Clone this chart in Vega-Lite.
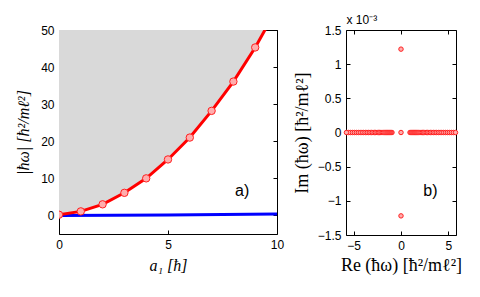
{
  "$schema": "https://vega.github.io/schema/vega-lite/v6.json",
  "padding": {"left": 15, "top": 8, "right": 5, "bottom": 5},
  "bounds": "flush",
  "spacing": 69,
  "config": {
    "view": {"stroke": null},
    "axis": {
      "grid": false, "domainColor": "#000", "domainWidth": 1, "tickColor": "#000",
      "tickSize": -4, "labelPadding": 9, "labelFont": "Liberation Sans", "labelFontSize": 12,
      "labelColor": "#000", "titleFont": "Liberation Serif", "titleFontSize": 16,
      "titleFontWeight": "normal", "titleColor": "#000", "labelFlush": false,
      "titlePadding": 7, "zindex": 1
    }
  },
  "datasets": {
    "curve": [
      {"a1": 0, "w": 0.2}, {"a1": 1, "w": 1.1}, {"a1": 2, "w": 3.0}, {"a1": 3, "w": 6.1},
      {"a1": 4, "w": 10.0}, {"a1": 5, "w": 15.1}, {"a1": 6, "w": 21.0}, {"a1": 7, "w": 28.2},
      {"a1": 8, "w": 36.1}, {"a1": 9, "w": 45.3}, {"a1": 10, "w": 55.8}
    ],
    "blue": [{"a1": 0, "w": 0}, {"a1": 5, "w": 0.15}, {"a1": 10, "w": 0.4}],
    "spectrum": [
      {"re": 0, "im": 0}, {"re": 0, "im": 1.22}, {"re": 0, "im": -1.22},
      {"re": 0.95, "im": 0}, {"re": 1.05, "im": 0}, {"re": 1.15, "im": 0}, {"re": 1.25, "im": 0},
      {"re": 1.35, "im": 0}, {"re": 1.45, "im": 0}, {"re": 1.55, "im": 0}, {"re": 1.66, "im": 0},
      {"re": 1.77, "im": 0}, {"re": 1.88, "im": 0}, {"re": 2.0, "im": 0}, {"re": 2.12, "im": 0},
      {"re": 2.25, "im": 0}, {"re": 2.38, "im": 0}, {"re": 2.52, "im": 0}, {"re": 2.66, "im": 0},
      {"re": 2.8, "im": 0}, {"re": 2.95, "im": 0}, {"re": 3.1, "im": 0}, {"re": 3.26, "im": 0},
      {"re": 3.42, "im": 0}, {"re": 3.59, "im": 0}, {"re": 3.76, "im": 0}, {"re": 3.94, "im": 0},
      {"re": 4.12, "im": 0}, {"re": 4.31, "im": 0}, {"re": 4.5, "im": 0}, {"re": 4.7, "im": 0},
      {"re": 4.9, "im": 0}, {"re": 5.1, "im": 0}, {"re": 5.31, "im": 0}, {"re": 5.52, "im": 0},
      {"re": 5.75, "im": 0},
      {"re": -0.95, "im": 0}, {"re": -1.05, "im": 0}, {"re": -1.15, "im": 0}, {"re": -1.25, "im": 0},
      {"re": -1.35, "im": 0}, {"re": -1.45, "im": 0}, {"re": -1.55, "im": 0}, {"re": -1.66, "im": 0},
      {"re": -1.77, "im": 0}, {"re": -1.88, "im": 0}, {"re": -2.0, "im": 0}, {"re": -2.12, "im": 0},
      {"re": -2.25, "im": 0}, {"re": -2.38, "im": 0}, {"re": -2.52, "im": 0}, {"re": -2.66, "im": 0},
      {"re": -2.8, "im": 0}, {"re": -2.95, "im": 0}, {"re": -3.1, "im": 0}, {"re": -3.26, "im": 0},
      {"re": -3.42, "im": 0}, {"re": -3.59, "im": 0}, {"re": -3.76, "im": 0}, {"re": -3.94, "im": 0},
      {"re": -4.12, "im": 0}, {"re": -4.31, "im": 0}, {"re": -4.5, "im": 0}, {"re": -4.7, "im": 0},
      {"re": -4.9, "im": 0}, {"re": -5.1, "im": 0}, {"re": -5.31, "im": 0}, {"re": -5.52, "im": 0},
      {"re": -5.75, "im": 0}
    ]
  },
  "hconcat": [
    {
      "width": 218,
      "height": 204,
      "resolve": {"axis": {"x": "independent", "y": "independent"}},
      "layer": [
        {
          "data": {"name": "curve"},
          "mark": {"type": "area", "color": "#d9d9d9", "clip": true},
          "encoding": {
            "x": {"field": "a1", "type": "quantitative", "scale": {"domain": [0, 10], "nice": false},
                  "axis": {"title": "a₁ [ħ]", "values": [0, 5, 10], "titleFontStyle": "italic"}},
            "y": {"field": "w", "type": "quantitative", "scale": {"domain": [-5, 50], "nice": false, "zero": false},
                  "axis": {"title": "|ħω| [ħ²/mℓ²]", "values": [0, 10, 20, 30, 40, 50], "titleFontStyle": "italic", "titlePadding": 9}},
            "y2": {"datum": 50}
          }
        },
        {
          "data": {"name": "blue"},
          "mark": {"type": "line", "color": "#0000ff", "strokeWidth": 3, "clip": true},
          "encoding": {
            "x": {"field": "a1", "type": "quantitative", "axis": null},
            "y": {"field": "w", "type": "quantitative", "axis": null}
          }
        },
        {
          "data": {"name": "curve"},
          "mark": {"type": "line", "color": "#ff0000", "strokeWidth": 3, "clip": true},
          "encoding": {
            "x": {"field": "a1", "type": "quantitative", "axis": null},
            "y": {"field": "w", "type": "quantitative", "axis": null}
          }
        },
        {
          "data": {"name": "curve"},
          "mark": {"type": "point", "shape": "circle", "filled": true, "fill": "#ffadad", "stroke": "#ff2020", "strokeWidth": 1, "size": 55, "opacity": 1, "clip": true},
          "encoding": {
            "x": {"field": "a1", "type": "quantitative", "axis": null},
            "y": {"field": "w", "type": "quantitative", "axis": null}
          }
        },
        {
          "data": {"values": [{"x": 8.4, "y": 6.5, "label": "a)"}]},
          "mark": {"type": "text", "font": "Liberation Sans", "fontSize": 16, "color": "#000", "align": "center", "baseline": "middle"},
          "encoding": {
            "x": {"field": "x", "type": "quantitative", "axis": null},
            "y": {"field": "y", "type": "quantitative", "axis": null},
            "text": {"field": "label"}
          }
        },
        {
          "data": {"name": "curve"},
          "mark": {"type": "line", "opacity": 0},
          "encoding": {
            "x": {"field": "a1", "type": "quantitative", "axis": {"orient": "top", "labels": false, "title": null, "values": [0, 5, 10]}},
            "y": {"field": "w", "type": "quantitative", "axis": {"orient": "right", "labels": false, "title": null, "values": [0, 10, 20, 30, 40, 50]}}
          }
        }
      ]
    },
    {
      "width": 110,
      "height": 205,
      "resolve": {"axis": {"x": "independent", "y": "independent"}},
      "layer": [
        {
          "data": {"name": "spectrum"},
          "mark": {"type": "point", "shape": "circle", "filled": true, "fill": "#ffadad", "stroke": "#ff2020", "strokeWidth": 1, "size": 20, "opacity": 1},
          "encoding": {
            "x": {"field": "re", "type": "quantitative", "scale": {"domain": [-5.8, 5.8], "nice": false},
                  "axis": {"title": "Re (ħω) [ħ²/mℓ²]", "values": [-5, 0, 5], "titleFontSize": 18, "titlePadding": 5}},
            "y": {"field": "im", "type": "quantitative", "scale": {"domain": [-1.5, 1.5], "nice": false},
                  "axis": {"title": "Im (ħω) [ħ²/mℓ²]", "values": [-1.5, -1, -0.5, 0, 0.5, 1, 1.5], "format": "~g", "titlePadding": 6, "titleFontSize": 18}}
          }
        },
        {
          "data": {"values": [{"x": 3.1, "y": -0.86, "label": "b)"}]},
          "mark": {"type": "text", "font": "Liberation Sans", "fontSize": 16, "color": "#000", "align": "center", "baseline": "middle"},
          "encoding": {
            "x": {"field": "x", "type": "quantitative", "axis": null},
            "y": {"field": "y", "type": "quantitative", "axis": null},
            "text": {"field": "label"}
          }
        },
        {
          "data": {"name": "spectrum"},
          "mark": {"type": "point", "opacity": 0},
          "encoding": {
            "x": {"field": "re", "type": "quantitative",
                  "axis": {"orient": "top", "labels": false, "values": [-5, 0, 5], "title": "x 10⁻³",
                           "titleFont": "Liberation Sans", "titleFontSize": 12, "titleAngle": 0, "titleAlign": "left",
                           "titleAnchor": "start", "titleX": 0, "titleY": -7, "titleBaseline": "alphabetic"}},
            "y": {"field": "im", "type": "quantitative",
                  "axis": {"orient": "right", "labels": false, "title": null, "values": [-1.5, -1, -0.5, 0, 0.5, 1, 1.5]}}
          }
        }
      ]
    }
  ]
}
